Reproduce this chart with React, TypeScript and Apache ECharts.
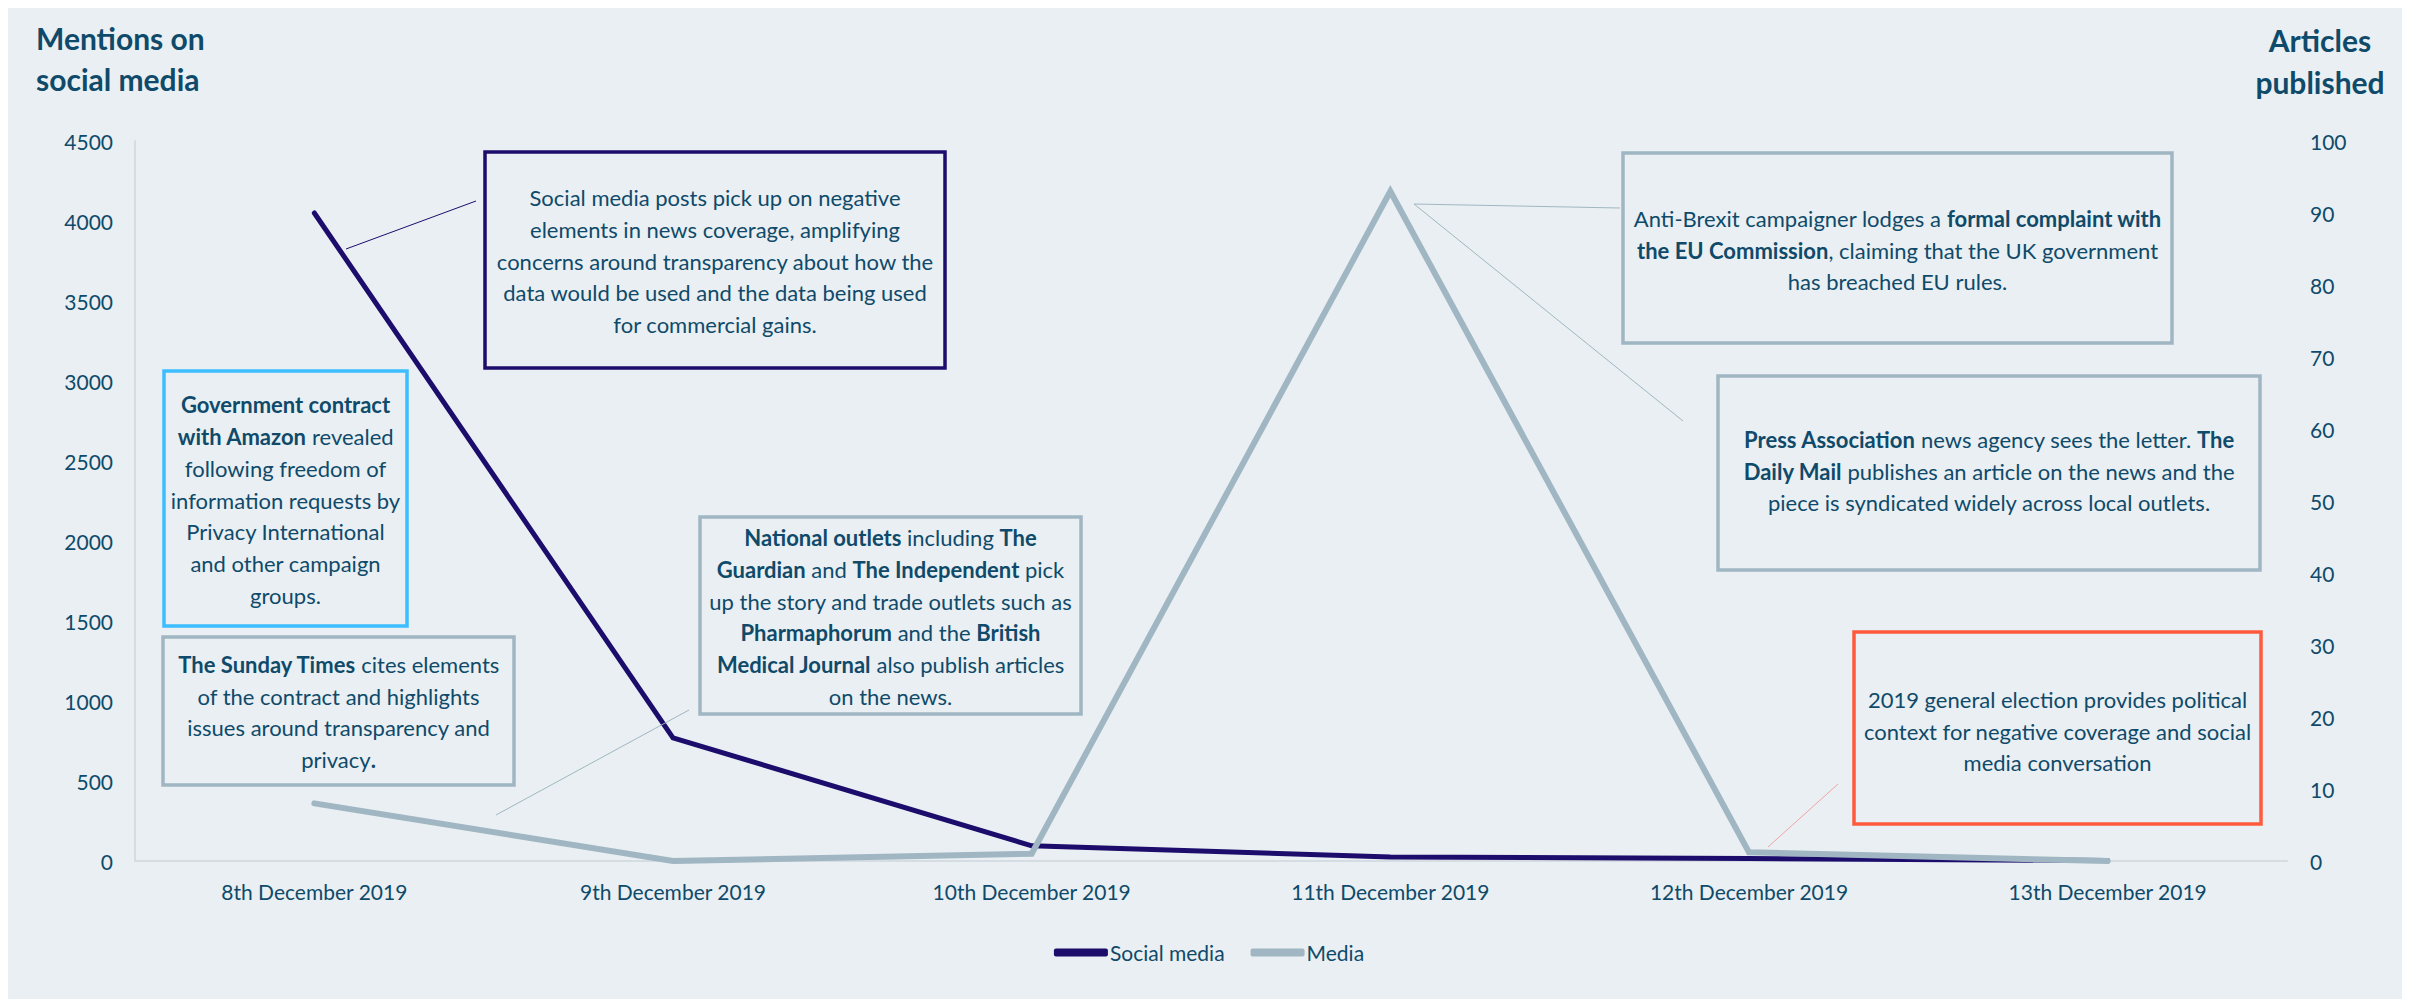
import React, { useEffect, useRef } from "react";
import * as echarts from "echarts";

const categories = [
  "8th December 2019",
  "9th December 2019",
  "10th December 2019",
  "11th December 2019",
  "12th December 2019",
  "13th December 2019",
];
const socialMedia = [4050, 770, 95, 25, 15, 3];
const media = [8, 0, 1, 93, 1.2, 0];
const leftTicks = { min: 0, max: 4500, interval: 500 };
const rightTicks = { min: 0, max: 100, interval: 10 };

const FONT = 'Lato, "Open Sans", sans-serif';
const TXT = "#0F4A6A";
const NAVY = "#1C0D6D";
const GREY = "#A0B6C2";
const CYAN = "#3DBEFF";
const RED = "#FF5A3C";
const BG = "#E9EFF2";

const rich = {
  b: { fontFamily: FONT, fontSize: 22, fontWeight: "bold", fill: TXT, lineHeight: 31.7 },
};

function note(x: number, y: number, text: string) {
  return {
    type: "text",
    x,
    y,
    z: 20,
    style: {
      text,
      fontFamily: FONT,
      fontSize: 22,
      fill: TXT,
      align: "center",
      verticalAlign: "middle",
      lineHeight: 31.7,
      rich,
    },
  };
}

function box(x: number, y: number, w: number, h: number, color: string) {
  return {
    type: "rect",
    z: 15,
    shape: { x, y, width: w, height: h },
    style: { fill: "transparent", stroke: color, lineWidth: 3.5 },
  };
}

function link(x1: number, y1: number, x2: number, y2: number, color: string) {
  return {
    type: "line",
    z: 15,
    shape: { x1, y1, x2, y2 },
    style: { stroke: color, lineWidth: 1 },
  };
}

export default function App() {
  const ref = useRef<HTMLDivElement>(null);
  useEffect(() => {
    document.body.style.overflow = "hidden";
    const chart = echarts.init(ref.current!, null, { renderer: "svg" });
    chart.setOption({
      animation: false,
      backgroundColor: BG,
      textStyle: { fontFamily: FONT },
      grid: { left: 127, right: 123, top: 133, bottom: 138 },
      legend: {
        bottom: 31,
        left: "center",
        icon: "roundRect",
        itemWidth: 54,
        itemHeight: 8,
        itemGap: 26,
        textStyle: { fontFamily: FONT, fontSize: 21, color: TXT, padding: [0, 0, 0, -3] },
        data: ["Social media", "Media"],
      },
      xAxis: {
        type: "category",
        data: categories,
        boundaryGap: true,
        axisTick: { show: false },
        axisLine: { lineStyle: { color: "#D6DDE2", width: 2 } },
        axisLabel: { fontFamily: FONT, fontSize: 21, color: TXT, margin: 20 },
      },
      yAxis: [
        {
          type: "value",
          ...leftTicks,
          splitLine: { show: false },
          axisLine: { show: true, lineStyle: { color: "#D6DDE2", width: 2 } },
          axisTick: { show: false },
          axisLabel: {
            fontFamily: FONT,
            fontSize: 21,
            color: TXT,
            margin: 22,
            formatter: (v: number) => String(v),
          },
        },
        {
          type: "value",
          ...rightTicks,
          position: "right",
          splitLine: { show: false },
          axisLine: { show: false },
          axisTick: { show: false },
          axisLabel: {
            fontFamily: FONT,
            fontSize: 21,
            color: TXT,
            margin: 23,
            formatter: (v: number) => String(v),
          },
        },
      ],
      series: [
        {
          name: "Social media",
          type: "line",
          yAxisIndex: 0,
          data: socialMedia,
          showSymbol: false,
          itemStyle: { color: NAVY },
          lineStyle: { color: NAVY, width: 5, join: "miter", cap: "round" },
        },
        {
          name: "Media",
          type: "line",
          yAxisIndex: 1,
          data: media,
          showSymbol: false,
          itemStyle: { color: GREY },
          lineStyle: { color: GREY, width: 6, join: "miter", cap: "round" },
        },
      ],
      graphic: [
        {
          type: "text",
          x: 28,
          y: 50,
          style: {
            text: "Mentions on\nsocial media",
            fontFamily: FONT,
            fontSize: 30,
            fontWeight: "bold",
            fill: TXT,
            align: "left",
            verticalAlign: "middle",
            lineHeight: 41,
          },
        },
        {
          type: "text",
          x: 2312,
          y: 53,
          style: {
            text: "Articles\npublished",
            fontFamily: FONT,
            fontSize: 30,
            fontWeight: "bold",
            fill: TXT,
            align: "center",
            verticalAlign: "middle",
            lineHeight: 42,
          },
        },
        // connectors
        link(468, 193, 338, 241, NAVY),
        link(488, 807, 681, 702, GREY),
        link(1406, 196, 1612, 200, GREY),
        link(1406, 196, 1675, 413, GREY),
        link(1760, 839, 1830, 776, "#F2A3A3"),
        // boxes
        box(477, 144, 460, 216, NAVY),
        box(156, 363, 243, 255, CYAN),
        box(155, 629, 351, 148, GREY),
        box(692, 509, 381, 197, GREY),
        box(1615, 145, 549, 190, GREY),
        box(1710, 368, 542, 194, GREY),
        box(1846, 624, 407, 192, RED),
        // texts
        note(
          707,
          253,
          "Social media posts pick up on negative\nelements in news coverage, amplifying\nconcerns around transparency about how the\ndata would be used and the data being used\nfor commercial gains."
        ),
        note(
          277.5,
          492,
          "{b|Government contract}\n{b|with Amazon} revealed\nfollowing freedom of\ninformation requests by\nPrivacy International\nand other campaign\ngroups."
        ),
        note(
          330.5,
          704,
          "{b|The Sunday Times} cites elements\nof the contract and highlights\nissues around transparency and\nprivacy{b|.}"
        ),
        note(
          882.5,
          609,
          "{b|National outlets} including {b|The}\n{b|Guardian} and {b|The Independent} pick\nup the story and trade outlets such as\n{b|Pharmaphorum} and the {b|British}\n{b|Medical Journal} also publish articles\non the news."
        ),
        note(
          1889.5,
          242,
          "Anti-Brexit campaigner lodges a {b|formal complaint with}\n{b|the EU Commission}, claiming that the UK government\nhas breached EU rules."
        ),
        note(
          1981,
          463,
          "{b|Press Association} news agency sees the letter. {b|The}\n{b|Daily Mail} publishes an article on the news and the\npiece is syndicated widely across local outlets."
        ),
        note(
          2049.5,
          723,
          "2019 general election provides political\ncontext for negative coverage and social\nmedia conversation"
        ),
      ],
    });
    return () => chart.dispose();
  }, []);
  return <div ref={ref} style={{ width: 2402, height: 991 }} />;
}
